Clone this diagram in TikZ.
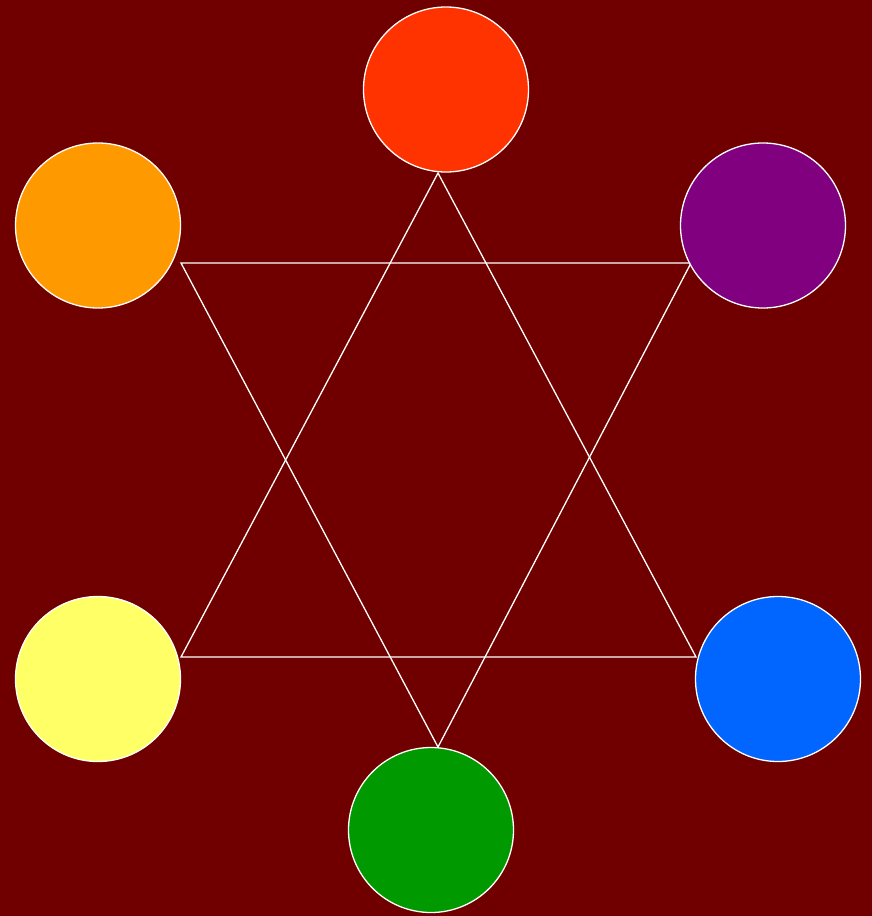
\documentclass[tikz,border=0pt]{standalone}
\begin{document}
\begin{tikzpicture}[x=1pt,y=-1pt,
  disc/.style={circle,draw=white,line width=1.3pt,minimum size=165pt,inner sep=0pt},
  link/.style={draw=white,line width=1.3pt,line join=miter}]
\definecolor{bg}{HTML}{700000}
\definecolor{cred}{HTML}{FF3300}
\definecolor{corange}{HTML}{FF9900}
\definecolor{cpurple}{HTML}{800080}
\definecolor{cyellow}{HTML}{FFFF66}
\definecolor{cblue}{HTML}{0066FF}
\definecolor{cgreen}{HTML}{009900}
\fill[bg] (0,0) rectangle (872,916);
\useasboundingbox (0,0) rectangle (872,916);
% triangle corners
\coordinate (t1) at (438,173);
\coordinate (t2) at (181,657);
\coordinate (t3) at (696,657);
\coordinate (u1) at (181,263);
\coordinate (u2) at (691,263);
\coordinate (u3) at (438,747);
\draw[link] (t1) -- (t2) -- (t3) -- cycle;
\draw[link] (u1) -- (u2) -- (u3) -- cycle;
% discs
\node[disc,fill=cred] (red) at (446,89.5) {};
\node[disc,fill=corange] (orange) at (98,225.5) {};
\node[disc,fill=cpurple] (purple) at (763,225.5) {};
\node[disc,fill=cyellow] (yellow) at (98,679) {};
\node[disc,fill=cblue] (blue) at (778,679) {};
\node[disc,fill=cgreen] (green) at (431,830) {};
\end{tikzpicture}
\end{document}
